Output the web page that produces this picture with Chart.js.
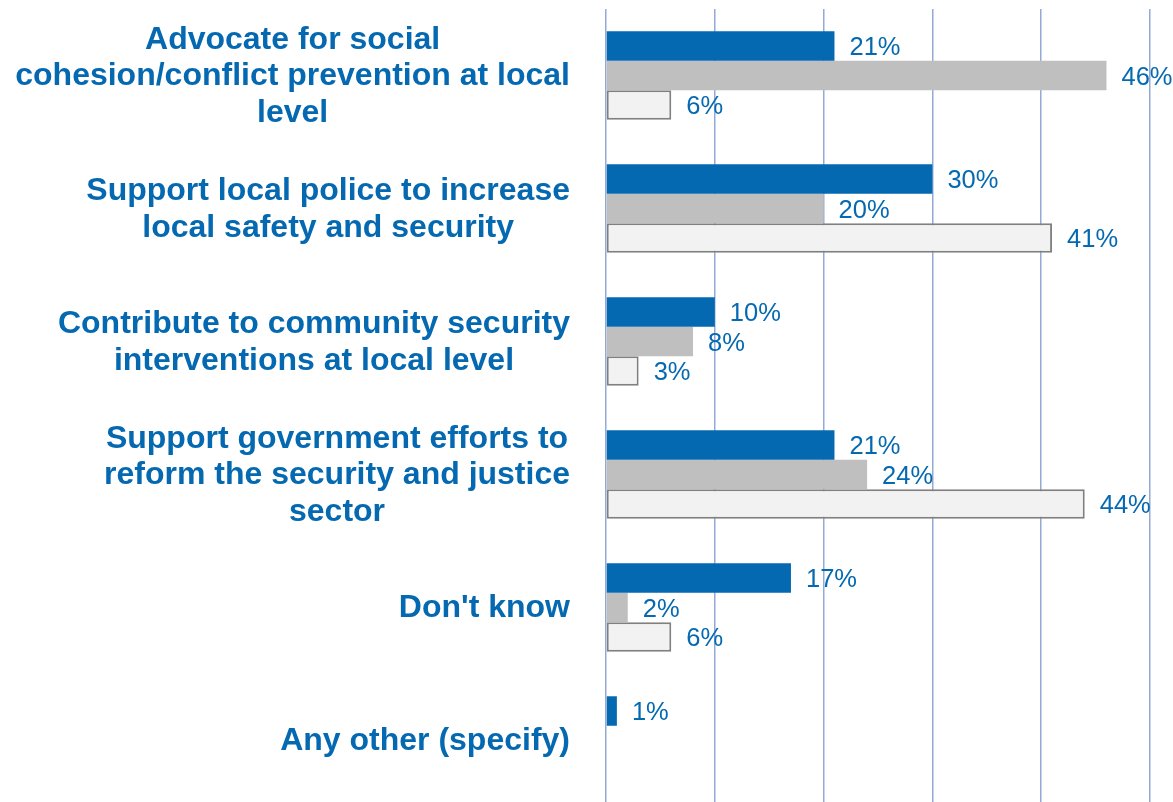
<!DOCTYPE html>
<html>
<head>
<meta charset="utf-8">
<script src="https://cdn.jsdelivr.net/npm/chart.js@4.4.1/dist/chart.umd.min.js"></script>
<style>
  html, body { margin: 0; padding: 0; background: #ffffff; overflow: hidden; }
  #wrap { width: 1173px; height: 810px; position: relative; }
</style>
</head>
<body>
<div id="wrap"><canvas id="c" width="1173" height="810"></canvas></div>
<script>
// ---- data ----
const categories = [
  ["Advocate for social", "cohesion/conflict prevention at local", "level"],
  ["Support local police to increase", "local safety and security"],
  ["Contribute to community security", "interventions at local level"],
  ["Support government efforts to", "reform the security and justice", "sector"],
  ["Don't know"],
  ["Any other (specify)"]
];
const seriesA = [21, 30, 10, 21, 17, 1];
const seriesB = [46, 20, 8, 24, 2, 0];
const seriesC = [6, 41, 3, 44, 6, 0];
const xTicks = [0, 10, 20, 30, 40, 50];

const BLUE = '#0569B1';

const labelPlugin = {
  id: 'labels',
  afterDraw(chart) {
    const ctx = chart.ctx;
    ctx.save();
    // data labels
    ctx.font = '25.5px "Liberation Sans", Arial, sans-serif';
    ctx.fillStyle = BLUE;
    ctx.textAlign = 'left';
    ctx.textBaseline = 'middle';
    chart.data.datasets.forEach((ds, di) => {
      const meta = chart.getDatasetMeta(di);
      meta.data.forEach((bar, i) => {
        const v = ds.data[i];
        if (!v) return;
        ctx.fillText(v + '%', bar.x + 15, bar.y + 2);
      });
    });
    // category labels: block right-aligned, lines centred
    const yScale = chart.scales.y;
    ctx.font = 'bold 32px "Liberation Sans", Arial, sans-serif';
    ctx.textAlign = 'center';
    const rightEdge = 570;
    const lh = 36.5;
    categories.forEach((lines, i) => {
      const y = yScale.getPixelForValue(i) + 1;
      let maxW = 0;
      lines.forEach(l => { maxW = Math.max(maxW, ctx.measureText(l).width); });
      const cx = rightEdge - maxW / 2;
      lines.forEach((l, j) => {
        ctx.fillText(l, cx, y + (j - (lines.length - 1) / 2) * lh);
      });
    });
    ctx.restore();
  }
};

new Chart(document.getElementById('c'), {
  type: 'bar',
  data: {
    labels: categories,
    datasets: [
      { label: 'A', data: seriesA, backgroundColor: BLUE, borderWidth: 0 },
      { label: 'B', data: seriesB, backgroundColor: '#BFBFBF', borderWidth: 0 },
      { label: 'C', data: seriesC, backgroundColor: '#F2F2F2', borderColor: '#808080', borderWidth: 2, borderSkipped: false }
    ]
  },
  options: {
    indexAxis: 'y',
    responsive: false,
    animation: false,
    events: [],
    layout: { padding: { left: 606, right: 23, top: 9, bottom: 3 } },
    datasets: { bar: { categoryPercentage: 0.665, barPercentage: 1.0 } },
    plugins: { legend: { display: false }, tooltip: { enabled: false } },
    scales: {
      x: {
        min: xTicks[0], max: xTicks[xTicks.length - 1],
        afterBuildTicks(scale) { scale.ticks = xTicks.map(v => ({ value: v })); },
        ticks: { display: false },
        grid: { color: '#93A9D6', lineWidth: 1.5, drawTicks: false },
        border: { display: false }
      },
      y: {
        display: false,
        grid: { display: false }
      }
    }
  },
  plugins: [labelPlugin]
});
</script>
</body>
</html>
